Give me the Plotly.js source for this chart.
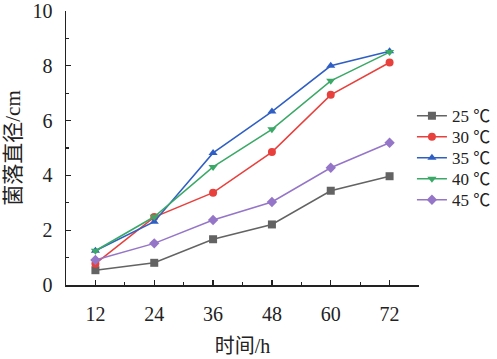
<!DOCTYPE html>
<html>
<head>
<meta charset="utf-8">
<script src="https://cdn.plot.ly/plotly-3.0.1.min.js"></script>
<style>html,body{margin:0;padding:0;background:#fff;}#chart{width:497px;height:359px;}</style>
</head>
<body>
<div id="chart"></div>
<script>
const hours = [12, 24, 36, 48, 60, 72];
const seriesNames = ['25 ℃', '30 ℃', '35 ℃', '40 ℃', '45 ℃'];
const t25 = [0.54, 0.81, 1.67, 2.21, 3.44, 3.97];
const t30 = [0.78, 2.48, 3.37, 4.85, 6.94, 8.12];
const t35 = [1.25, 2.31, 4.82, 6.33, 8.00, 8.53];
const t40 = [1.25, 2.49, 4.31, 5.68, 7.45, 8.50];
const t45 = [0.91, 1.52, 2.37, 3.03, 4.28, 5.19];
const yTicks = [0, 2, 4, 6, 8, 10];

const colors = ['#636363', '#e8403c', '#2f5fc4', '#3aa866', '#9575c8'];
const symbols = ['square', 'circle', 'triangle-up', 'triangle-down', 'diamond'];
const data = [t25, t30, t35, t40, t45];

const traces = data.map((ys, i) => ({
  x: hours, y: ys, name: seriesNames[i], type: 'scatter', mode: 'lines+markers',
  line: {color: colors[i], width: 1.5},
  marker: {color: colors[i], symbol: symbols[i], size: 8}
}));

const serif = '"Liberation Serif", "Noto Sans CJK SC", serif';
const layout = {
  width: 497, height: 359,
  margin: {l: 66, r: 78, t: 11, b: 74, autoexpand: false},
  paper_bgcolor: '#fff', plot_bgcolor: '#fff',
  font: {family: serif, color: '#222', size: 18},
  showlegend: true,
  legend: {x: 0.98, xanchor: 'left', y: 0.682, yanchor: 'top', font: {size: 17, family: serif, color: '#222'},
           bgcolor: 'rgba(0,0,0,0)', borderwidth: 0, tracegroupgap: 0, itemwidth: 30},
  xaxis: {
    range: [6, 78], tickvals: hours, ticks: 'inside', ticklen: 5, tickwidth: 1.2, tickcolor: '#222',
    minor: {tickvals: [6, 18, 30, 42, 54, 66, 78], ticks: 'inside', ticklen: 3, tickcolor: '#222'},
    showline: true, linecolor: '#222', linewidth: 1.5, showgrid: false, zeroline: false,
    tickfont: {size: 20, family: serif, color: '#222'}, ticklabelstandoff: 10,
    title: {text: '时间/h', font: {size: 20, family: serif, color: '#222'}, standoff: 15}
  },
  yaxis: {
    range: [0, 10], tickvals: yTicks, ticks: 'inside', ticklen: 5, tickwidth: 1.2, tickcolor: '#222',
    minor: {tickvals: [1, 3, 5, 7, 9], ticks: 'inside', ticklen: 3, tickcolor: '#222'},
    showline: true, linecolor: '#222', linewidth: 1.5, showgrid: false, zeroline: false,
    tickfont: {size: 20, family: serif, color: '#222'}, ticklabelstandoff: 8,
    title: {text: '菌落直径/cm', font: {size: 21, family: serif, color: '#222'}, standoff: 6}
  }
};
Plotly.newPlot('chart', traces, layout, {displayModeBar: false, staticPlot: true}).then(() => {
  // tighten legend row spacing to match the reference
  const items = document.querySelectorAll('#chart .legend .traces');
  let y0 = null;
  items.forEach((g, i) => {
    const m = /translate\(([-\d.]+),\s*([-\d.]+)\)/.exec(g.getAttribute('transform') || '');
    if (!m) return;
    if (y0 === null) y0 = parseFloat(m[2]);
    g.setAttribute('transform', 'translate(' + m[1] + ',' + (y0 + i * 21) + ')');
  });
});
</script>
</body>
</html>
